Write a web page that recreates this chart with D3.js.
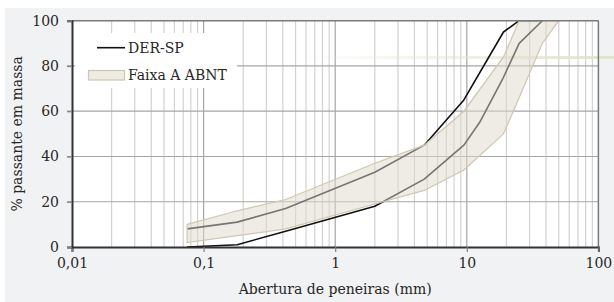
<!DOCTYPE html>
<html>
<head>
<meta charset="utf-8">
<script src="https://cdn.jsdelivr.net/npm/d3@7"></script>
<style>
  body { margin: 0; background: #ffffff; }
  svg { display: block; font-family: "DejaVu Serif", serif; }
</style>
</head>
<body>
<div id="chart"></div>
<script>
// sieve openings (mm) and % passing
const sieves = [0.075, 0.18, 0.42, 2.0, 4.75, 9.5, 12.5, 19, 25, 37.5];
const derLower = [0, 1, 7, 18, 30, 45, 55, 75, 90, 100];
const derUpperSieves = [0.075, 0.18, 0.42, 2.0, 4.75, 9.5, 19, 25, 37.5];
const derUpper = [8, 11, 17, 33, 45, 65, 95, 100, 100];

const abntUpperSieves = [0.075, 0.18, 0.42, 2.0, 4.75, 9.5, 19, 25, 50];
const abntUpper = [10, 16, 21, 37, 45, 60, 84, 100, 100];
const abntLowerSieves = [0.075, 0.18, 0.42, 2.0, 4.75, 9.5, 19, 25, 37.5, 50];
const abntLower = [2, 5, 8, 19, 25, 34, 50, 66, 90, 100];

const xTicks = [0.01, 0.1, 1, 10, 100];
const xTickLabels = ["0,01", "0,1", "1", "10", "100"];
const yTicks = [0, 20, 40, 60, 80, 100];

const W = 614, H = 302;
const plot = { left: 72, right: 598.4, top: 20.7, bottom: 247 };

const svg = d3.select("#chart").append("svg")
  .attr("width", W).attr("height", H);

// chart background
svg.append("rect").attr("x", 5).attr("y", 8).attr("width", W - 5).attr("height", H - 8)
  .attr("fill", "#f1f2f4");

const x = d3.scaleLog().domain([0.01, 100]).range([plot.left, plot.right]);
const y = d3.scaleLinear().domain([0, 100]).range([plot.bottom, plot.top]);

svg.append("rect").attr("x", plot.left).attr("y", plot.top)
  .attr("width", plot.right - plot.left).attr("height", plot.bottom - plot.top)
  .attr("fill", "#ffffff");

// minor + major vertical grid
const minor = [];
for (let e = -2; e < 2; e++) {
  for (let m = 2; m <= 9; m++) minor.push(m * Math.pow(10, e));
}
const grid = svg.append("g");
grid.selectAll(".vminor").data(minor).enter().append("line")
  .attr("x1", d => x(d)).attr("x2", d => x(d))
  .attr("y1", plot.top).attr("y2", plot.bottom)
  .attr("stroke", "#d2d2d2").attr("stroke-width", 1.2);
grid.selectAll(".vmajor").data(xTicks.slice(1, 4)).enter().append("line")
  .attr("x1", d => x(d)).attr("x2", d => x(d))
  .attr("y1", plot.top).attr("y2", plot.bottom)
  .attr("stroke", "#a6a6a6").attr("stroke-width", 1.2);
grid.selectAll(".hmajor").data(yTicks.slice(1, 5)).enter().append("line")
  .attr("x1", plot.left - 5).attr("x2", plot.right)
  .attr("y1", d => y(d)).attr("y2", d => y(d))
  .attr("stroke", "#a6a6a6").attr("stroke-width", 1.2);

// faint stray line seen in the original
const grad = svg.append("defs").append("linearGradient").attr("id", "fade")
  .attr("x1", "0%").attr("x2", "100%");
grad.append("stop").attr("offset", "0%").attr("stop-color", "#dfe6cc").attr("stop-opacity", 0);
grad.append("stop").attr("offset", "100%").attr("stop-color", "#dfe6cc").attr("stop-opacity", 1);
svg.append("rect").attr("x", 290).attr("y", 56).attr("width", W - 290).attr("height", 3)
  .attr("fill", "url(#fade)");

const line = d3.line().x(d => x(d[0])).y(d => y(d[1]));

// DER-SP limits
const lowerPts = sieves.map((s, i) => [s, derLower[i]]);
const upperPts = derUpperSieves.map((s, i) => [s, derUpper[i]]);
[lowerPts, upperPts].forEach(pts => {
  svg.append("path").attr("d", line(pts))
    .attr("fill", "none").attr("stroke", "#111111").attr("stroke-width", 1.6)
    .attr("stroke-linejoin", "round");
});

// ABNT band (semi transparent, drawn on top)
const bandPts = abntUpperSieves.map((s, i) => [s, abntUpper[i]])
  .concat(abntLowerSieves.map((s, i) => [s, abntLower[i]]).reverse());
svg.append("path").attr("d", line(bandPts) + "Z")
  .attr("fill", "rgb(222,217,203)").attr("fill-opacity", 0.5)
  .attr("stroke", "#cfc7b0").attr("stroke-width", 1.2);

// frame
svg.append("line").attr("x1", plot.left).attr("x2", plot.right)
  .attr("y1", plot.top).attr("y2", plot.top).attr("stroke", "#7a7a7a").attr("stroke-width", 1.5);
svg.append("line").attr("x1", plot.right).attr("x2", plot.right)
  .attr("y1", plot.top).attr("y2", plot.bottom).attr("stroke", "#7a7a7a").attr("stroke-width", 1.5);

// axes
const xAxis = d3.axisBottom(x).tickValues(xTicks)
  .tickFormat((d, i) => xTickLabels[i]).tickSize(5).tickPadding(6);
const gx = svg.append("g").attr("transform", `translate(0,${plot.bottom})`).call(xAxis);
const yAxis = d3.axisLeft(y).tickValues(yTicks).tickSize(5).tickPadding(8);
const gy = svg.append("g").attr("transform", `translate(${plot.left},0)`).call(yAxis);
[gx, gy].forEach(g => {
  g.select(".domain").attr("stroke", "#333333").attr("stroke-width", 2);
  g.selectAll(".tick line").attr("stroke", "#808080").attr("stroke-width", 1.2);
  g.selectAll("text").attr("font-family", "DejaVu Serif").attr("font-size", 14)
    .attr("fill", "#262626");
});

svg.append("text").attr("x", (plot.left + plot.right) / 2).attr("y", 294)
  .attr("text-anchor", "middle").attr("font-size", 14).attr("fill", "#262626")
  .text("Abertura de peneiras (mm)");
svg.append("text")
  .attr("transform", `translate(22,${(plot.top + plot.bottom) / 2}) rotate(-90)`)
  .attr("text-anchor", "middle").attr("font-size", 14).attr("fill", "#262626")
  .text("% passante em massa");

// legend
const leg = svg.append("g");
leg.append("rect").attr("x", 75).attr("y", 33).attr("width", 162).attr("height", 55)
  .attr("fill", "#ffffff");
leg.append("line").attr("x1", 97).attr("x2", 125).attr("y1", 47.7).attr("y2", 47.7)
  .attr("stroke", "#111111").attr("stroke-width", 1.6);
leg.append("text").attr("x", 128).attr("y", 52.5).attr("font-size", 14).attr("fill", "#262626")
  .text("DER-SP");
leg.append("rect").attr("x", 88.5).attr("y", 70.5).attr("width", 36).attr("height", 9.5)
  .attr("fill", "#eeebe4").attr("stroke", "#cfc7b0").attr("stroke-width", 1.2);
leg.append("text").attr("x", 128).attr("y", 80).attr("font-size", 14).attr("fill", "#262626")
  .text("Faixa A ABNT");
</script>
</body>
</html>
